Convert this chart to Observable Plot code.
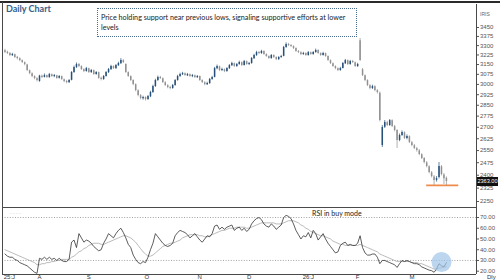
<!DOCTYPE html>
<html><head><meta charset="utf-8">
<script src="https://cdn.jsdelivr.net/npm/d3@7"></script>
<script src="https://cdn.jsdelivr.net/npm/@observablehq/plot@0.6"></script>
<style>
html,body{margin:0;padding:0;background:#fff;}
#wrap{position:relative;width:500px;height:280px;overflow:hidden;font-family:Lato,"Open Sans",sans-serif;}
#wrap svg{position:absolute;left:0;overflow:visible;}
.abs{position:absolute;white-space:nowrap;}
.ln{position:absolute;background:#4a4a4a;}
</style></head><body><div id="wrap"></div>
<script>
// ---- data (daily OHLC, IRIS) ----
const opens=[3258,3246,3236,3220,3226,3206,3195,3180,3164,3146,
3102,3080,3058,3042,3022,3060,3052,3064,3050,3072,
3058,3064,3046,3058,3034,3022,3012,3030,3088,3126,
3150,3134,3110,3096,3118,3088,3102,3074,3088,3046,
3036,3058,3088,3110,3134,3118,3140,3156,3180,3150,
3088,3058,3028,2998,2954,2918,2896,2904,2890,2910,
2940,2984,3028,3052,3042,3012,2990,2978,2970,2992,
3028,3058,3072,3080,3064,3072,3058,3064,3050,3058,
3028,3012,2998,3006,3036,3052,3118,3132,3104,3110,
3096,3118,3140,3156,3134,3150,3164,3142,3172,3150,
3158,3196,3220,3244,3236,3252,3228,3212,3196,3220,
3204,3188,3204,3214,3284,3308,3300,3292,3276,3252,
3242,3228,3236,3220,3242,3228,3244,3260,3236,3220,
3236,3212,3180,3156,3134,3118,3104,3120,3156,3180,
3150,3174,3164,3134,3340,3110,3064,3028,2990,2970,
2982,2954,2936,2582,2700,2730,2712,2744,2704,2678,
2614,2646,2664,2626,2638,2600,2580,2562,2548,2524,
2500,2474,2450,2414,2390,2370,2386,2450,2402,2382];
const highs=[3270,3255,3244,3238,3232,3214,3203,3186,3170,3152,
3108,3086,3064,3050,3068,3070,3078,3070,3082,3078,
3074,3068,3066,3062,3040,3030,3036,3096,3138,3162,
3158,3140,3118,3128,3122,3112,3108,3096,3092,3054,
3066,3096,3120,3144,3140,3150,3168,3196,3188,3156,
3094,3064,3034,3004,2960,2926,2914,2910,2920,2950,
2994,3038,3062,3060,3048,3020,2998,2986,3000,3036,
3068,3084,3090,3086,3082,3078,3074,3070,3066,3062,
3034,3020,3016,3044,3060,3128,3146,3138,3122,3116,
3126,3150,3168,3162,3158,3176,3170,3182,3178,3166,
3205,3230,3254,3252,3262,3258,3234,3218,3228,3226,
3210,3212,3222,3294,3322,3318,3308,3298,3282,3260,
3250,3246,3242,3252,3248,3252,3272,3266,3242,3246,
3240,3218,3186,3162,3140,3124,3128,3166,3190,3186,
3182,3182,3170,3160,3358,3120,3070,3034,2998,2994,
2990,2962,2944,2712,2745,2740,2752,2750,2712,2684,
2656,2676,2670,2650,2644,2608,2588,2570,2556,2530,
2506,2482,2456,2422,2398,2392,2476,2458,2410,2390];
const lows=[3236,3228,3212,3213,3198,3186,3172,3158,3140,3096,
3072,3050,3034,3018,3016,3044,3048,3044,3046,3052,
3050,3038,3040,3030,3012,3004,3008,3026,3082,3120,
3126,3104,3088,3092,3082,3082,3068,3068,3038,3026,
3030,3054,3082,3106,3112,3114,3136,3152,3158,3082,
3052,3022,2990,2946,2910,2888,2886,2880,2884,2904,
2934,2978,3022,3036,3006,2984,2968,2960,2964,2986,
3024,3052,3066,3060,3058,3052,3050,3044,3044,3022,
3006,2990,2992,3000,3030,3048,3110,3096,3096,3088,
3090,3112,3136,3128,3128,3144,3136,3138,3144,3142,
3152,3190,3214,3228,3230,3222,3206,3190,3192,3198,
3180,3182,3198,3210,3278,3292,3284,3268,3246,3236,
3220,3222,3214,3216,3222,3222,3238,3230,3214,3216,
3206,3174,3150,3128,3110,3096,3098,3116,3150,3142,
3144,3158,3128,3128,3174,3058,3020,2984,2960,2962,
2946,2930,2736,2569,2692,2704,2706,2698,2670,2563,
2606,2640,2620,2618,2594,2574,2556,2540,2518,2494,
2468,2444,2408,2384,2341,2360,2378,2396,2346,2341];
const closes=[3244,3237,3221,3229,3205,3197,3181,3166,3150,3104,
3081,3059,3044,3029,3062,3052,3066,3051,3074,3059,
3066,3044,3059,3036,3021,3014,3029,3089,3127,3150,
3135,3112,3096,3119,3089,3104,3074,3089,3044,3036,
3059,3089,3112,3135,3119,3142,3158,3181,3166,3089,
3059,3029,2999,2955,2919,2898,2905,2891,2912,2941,
2984,3029,3051,3044,3014,2992,2977,2970,2992,3029,
3059,3074,3081,3066,3074,3059,3066,3051,3059,3029,
3014,2999,3007,3036,3051,3119,3135,3104,3112,3096,
3119,3142,3158,3135,3150,3166,3142,3174,3150,3158,
3197,3221,3244,3237,3253,3229,3213,3197,3221,3205,
3189,3205,3213,3285,3309,3301,3293,3277,3253,3244,
3229,3237,3221,3244,3229,3244,3261,3237,3221,3237,
3213,3181,3158,3135,3119,3104,3119,3158,3181,3150,
3174,3166,3135,3150,3181,3066,3029,2992,2970,2984,
2955,2941,2745,2699,2732,2712,2745,2705,2679,2614,
2646,2666,2627,2640,2601,2582,2563,2550,2525,2501,
2476,2452,2416,2392,2369,2380,2452,2404,2380,2363];
const rsi=[36,34,33,33,31,30,28,27,26,25,
23,21,19,18,32,31,33,31,33,31,
32,30,32,30,29,29,31,47,49,42,
55,51,47,49,48,46,43,41,39,40,
46,50,55,53,51,55,58,60,56,51,
45,42,35,31,28,27,29,28,33,40,
46,55,52,49,46,44,43,44,46,53,
56,58,57,56,54,51,53,55,52,49,
47,50,53,52,55,62,63,59,61,59,
61,62,63,58,60,61,58,60,57,59,
64,67,69,70,68,64,62,61,64,62,
59,61,63,70,72,71,69,64,58,54,
50,53,52,56,51,58,55,49,52,55,
50,46,43,40,37,38,44,46,47,44,
45,44,44,46,53,42,37,35,35,36,
36,33,27,30,30,29,28,27,26,23.5,
27,30,29,30,29,28,27,27,26,24,
23,22,21,20.5,19,22,27,25,24,28];
const rsiSignal=[40,39,38,37,36,35,34,33,32,31,
30,29,28,26,26,27,27,28,28,29,
29,30,30,31,31,31,31,33,34,36,
38,39,41,42,44,45,46,46,46,45,
45,46,47,48,49,50,51,52,53,53,
52,51,49,47,44,41,38,36,34,34,
35,37,39,41,43,44,45,46,46,47,
48,49,51,52,53,54,54,54,54,53,
53,52,52,53,54,55,56,57,58,58,
59,60,60,60,61,61,61,61,60,60,
61,62,63,64,65,65,65,65,65,65,
64,64,64,65,66,67,67,67,66,65,
63,62,60,59,57,56,55,54,53,53,
52,51,50,48,47,46,45,45,44,44,
44,44,44,44,45,44,43,42,41,40,
39,38,36,35,34,33,32,31,30,29,
29,29,29,29,29,28,28,28,27,27,
26,25,24,23,22,22,23,23,24,24];
const priceTicks=[3450,3375,3300,3225,3150,3075,3000,2925,2850,2775,2700,2625,2550,2475,2400,2325,2250];
const rsiTicks=[70,60,50,40,30,20];
const rsiGuides=[70,30];
const monthLabels=["25:J","A","S","O","N","D","26:J","F","M"];
const monthIdx=[1.8,14,34,57.5,79,99,123,143,165];
const supportLevel=2341, supportFrom=171, supportTo=184;
const buySignal={i:177, v:28.5};

// ---- build ----
const UP="#26507a", DOWN="#909090";
const bars=d3.range(closes.length).map(i=>({i,o:opens[i],h:highs[i],l:lows[i],c:closes[i]}));
const upBars=bars.filter(d=>d.c>=d.o), dnBars=bars.filter(d=>d.c<d.o);
const rows=d3.range(rsi.length).map(i=>({i,rsi:rsi[i],sig:rsiSignal[i]}));
const xs={domain:[-1,191.2],range:[2,476],axis:null};
const font={fontFamily:"'Liberation Sans',Arial,sans-serif",fontSize:"6px",background:"transparent",overflow:"visible"};

const main=Plot.plot({
  width:500,height:207,marginLeft:2,marginRight:24,marginTop:0,marginBottom:0,style:font,
  x:xs,
  y:{type:"log",domain:[2250,3450],range:[201,27]},
  marks:[
    Plot.ruleY([supportLevel],{x1:supportFrom,x2:supportTo,stroke:"#f08a4b",strokeWidth:1.6}),
    Plot.ruleX(dnBars,{x:"i",y1:"l",y2:"h",stroke:DOWN,strokeWidth:0.7}),
    Plot.ruleX(dnBars,{x:"i",y1:"o",y2:"c",stroke:DOWN,strokeWidth:1.5}),
    Plot.ruleX(upBars,{x:"i",y1:"l",y2:"h",stroke:UP,strokeWidth:0.7}),
    Plot.ruleX(upBars,{x:"i",y1:"o",y2:"c",stroke:UP,strokeWidth:1.5}),
    Plot.axisY({ticks:priceTicks,anchor:"right",tickSize:2,tickPadding:1.5,tickFormat:d=>String(d),fill:"#555",stroke:"#555",fontSize:6,textAnchor:"start"})
  ]
});
const rsiPlot=Plot.plot({
  width:500,height:73,marginLeft:2,marginRight:24,marginTop:0,marginBottom:0,style:font,
  x:xs,
  y:{domain:[20,70],range:[63.7,10]},
  marks:[
    Plot.ruleY(rsiGuides,{stroke:"#8a8a8a",strokeDasharray:"1,1.6",strokeWidth:0.8}),
    Plot.line(rows,{x:"i",y:"sig",stroke:"#a8a8a8",strokeWidth:0.8}),
    Plot.line(rows,{x:"i",y:"rsi",stroke:"#333",strokeWidth:0.8}),
    Plot.dot([buySignal],{x:"i",y:"v",r:10,fill:"#9fc4e8",fillOpacity:0.7}),
    Plot.axisY({ticks:rsiTicks,anchor:"right",tickSize:2,tickPadding:1.5,tickFormat:d=>d.toFixed(2),fill:"#555",stroke:"#555",fontSize:6,textAnchor:"start"}),
    Plot.text(monthLabels,{x:(d,i)=>monthIdx[i],text:d=>d,frameAnchor:"bottom",lineAnchor:"top",dy:-5.8,fontSize:6,fill:"#333"})
  ]
});

const wrap=document.getElementById("wrap");
main.style.top="0px"; rsiPlot.style.top="207px";
wrap.appendChild(main); wrap.appendChild(rsiPlot);

function line(l,t,w,h,c){const d=document.createElement("div");d.className="ln";d.style.cssText+=`left:${l}px;top:${t}px;width:${w}px;height:${h}px;`+(c?`background:${c};`:"");wrap.appendChild(d);}
function label(html,css){const d=document.createElement("div");d.className="abs";d.style.cssText+=css;d.innerHTML=html;wrap.appendChild(d);return d;}
line(0,1,500,2,"#2a2a2a");
line(2,2,1,272);
line(476,4,1,270);
line(2,207,474,1);
line(2,274,474,1);

label("Daily Chart","left:6px;top:3px;font:bold 9px Lato,sans-serif;color:#35608a;");
label("Price holding support near previous lows, signaling supportive efforts at lower<br>levels",
 "left:97px;top:8px;width:252px;height:23px;padding:4px 3px 0 3px;border:1px dotted #4a6d8f;font:7.2px/10px Lato,sans-serif;color:#222;white-space:nowrap;");
label("RSI in buy mode","left:312px;top:209px;font:7px Lato,sans-serif;color:#222;");
label("IRIS","left:480px;top:11px;font:5px 'Liberation Sans',Arial,sans-serif;color:#666;");
label("Dly","left:487px;top:274px;font:6px 'Liberation Sans',Arial,sans-serif;color:#333;");
label("- - - -","left:10px;top:210px;font:5px 'Liberation Sans',Arial,sans-serif;color:#c8c8c8;");
const yLast=main.scale("y").apply(closes[closes.length-1]);
label(closes[closes.length-1].toFixed(2),`left:477px;top:${yLast-4.5}px;width:21px;height:9px;background:#111;color:#fff;font:5.6px/9px 'Liberation Sans',Arial,sans-serif;text-align:center;`);
</script></body></html>
